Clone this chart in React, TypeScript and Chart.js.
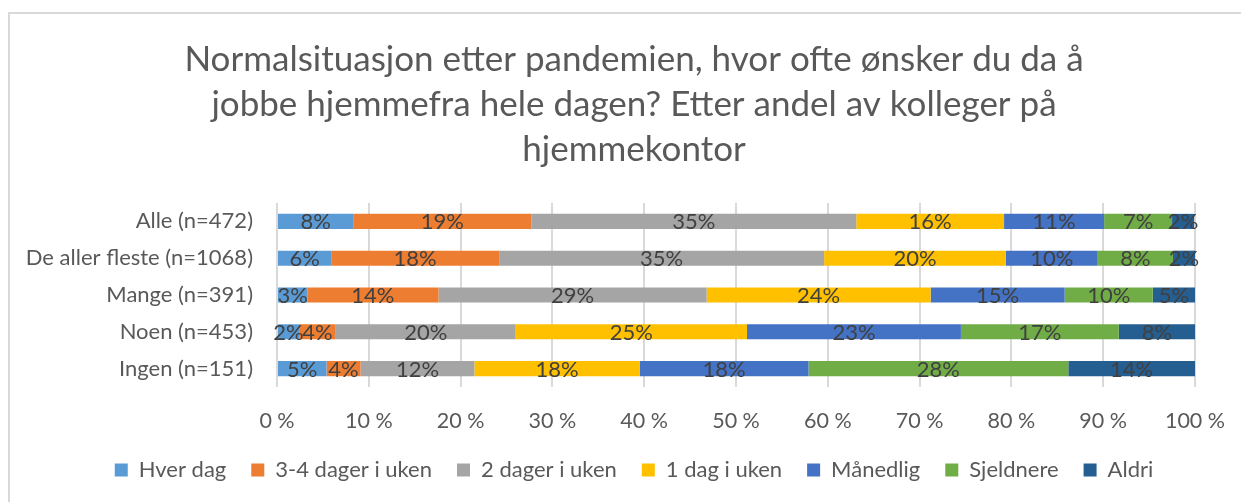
import React, { useEffect, useRef } from "react";
import { Chart, registerables } from "chart.js";

Chart.register(...registerables);

const categories = [
  "Alle (n=472)",
  "De aller fleste (n=1068)",
  "Mange (n=391)",
  "Noen (n=453)",
  "Ingen (n=151)",
];

const hverDag = [8.3, 5.9, 3.3, 2.4, 5.4];
const treFireDager = [19.4, 18.3, 14.3, 4.0, 3.7];
const toDager = [35.4, 35.4, 29.2, 19.6, 12.4];
const enDag = [16.1, 19.8, 24.4, 25.2, 18.0];
const maanedlig = [10.9, 10.0, 14.6, 23.3, 18.4];
const sjeldnere = [7.4, 8.2, 9.6, 17.2, 28.3];
const aldri = [2.4, 2.4, 4.6, 8.3, 13.8];

const seriesNames = [
  "Hver dag",
  "3-4 dager i uken",
  "2 dager i uken",
  "1 dag i uken",
  "Månedlig",
  "Sjeldnere",
  "Aldri",
];
const seriesValues = [hverDag, treFireDager, toDager, enDag, maanedlig, sjeldnere, aldri];
const seriesColors = ["#5B9BD5", "#ED7D31", "#A5A5A5", "#FFC000", "#4472C4", "#70AD47", "#255E91"];

const titleLines = [
  "Normalsituasjon etter pandemien, hvor ofte ønsker du da å",
  "jobbe hjemmefra hele dagen? Etter andel av kolleger på",
  "hjemmekontor",
];

const FONT = "Lato, 'Open Sans', sans-serif";
const CANVAS_W = 1268;
const CANVAS_H = 502;

const barLabels = {
  id: "barLabels",
  afterDatasetsDraw(chart: any) {
    const ctx = chart.ctx;
    ctx.save();
    ctx.font = `22px ${FONT}`;
    ctx.fillStyle = "#404040";
    ctx.textAlign = "center";
    ctx.textBaseline = "middle";
    chart.data.datasets.forEach((ds: any, di: number) => {
      const meta = chart.getDatasetMeta(di);
      meta.data.forEach((el: any, i: number) => {
        const v = ds.data[i];
        if (v == null) return;
        const cx = (el.x + el.base) / 2;
        ctx.fillText(Math.round(v) + "%", cx, el.y + 1);
      });
    });
    ctx.restore();
  },
};

export default function App() {
  const ref = useRef<HTMLCanvasElement | null>(null);

  useEffect(() => {
    if (!ref.current) return;
    const chart = new Chart(ref.current, {
      type: "bar",
      data: {
        labels: categories,
        datasets: seriesNames.map((name, i) => ({
          label: name,
          data: seriesValues[i],
          backgroundColor: seriesColors[i],
          borderWidth: 0,
          categoryPercentage: 1,
          barPercentage: 0.41,
        })),
      },
      options: {
        indexAxis: "y",
        animation: false,
        responsive: false,
        maintainAspectRatio: false,
        layout: { padding: { left: 0, right: 0, top: 0, bottom: 11 } },
        scales: {
          x: {
            stacked: true,
            min: 0,
            max: 100,
            border: { display: false },
            grid: { color: "#d9d9d9", lineWidth: 2, drawTicks: false },
            ticks: {
              stepSize: 10,
              padding: 21,
              color: "#595959",
              font: { family: FONT, size: 21.5 },
              callback: (v: any) => v + " %",
            },
            afterFit: (scale: any) => {
              scale.height = 47;
            },
          },
          y: {
            stacked: true,
            border: { display: false },
            grid: { display: false, drawTicks: false },
            ticks: {
              padding: 24,
              color: "#595959",
              font: { family: FONT, size: 22 },
            },
            afterFit: (scale: any) => {
              scale.width = 277;
            },
          },
          yR: {
            type: "linear",
            position: "right",
            display: true,
            border: { display: false },
            grid: { display: false, drawTicks: false },
            ticks: { display: false },
            afterFit: (scale: any) => {
              scale.width = CANVAS_W - 1195;
            },
          },
        },
        plugins: {
          title: {
            display: true,
            text: titleLines,
            color: "#595959",
            font: { family: FONT, size: 35, weight: "normal", lineHeight: 45 / 35 },
            padding: { top: 37.5, bottom: 30.5 },
          },
          legend: {
            display: true,
            position: "bottom",
            labels: {
              boxWidth: 13,
              boxHeight: 13,
              padding: 25,
              color: "#595959",
              font: { family: FONT, size: 22 },
            },
          },
          tooltip: { enabled: false },
        },
      },
      plugins: [barLabels],
    });
    return () => chart.destroy();
  }, []);

  return (
    <div style={{ position: "absolute", left: 0, top: 0, width: 1241, height: 502, overflow: "hidden", background: "#fff" }}>
      <div
        style={{
          position: "absolute",
          left: 8,
          top: 12,
          width: 1260,
          height: 520,
          border: "2px solid #d9d9d9",
          boxSizing: "border-box",
        }}
      />
      <canvas
        ref={ref}
        width={CANVAS_W}
        height={CANVAS_H}
        style={{ position: "absolute", left: 0, top: 0 }}
      />
    </div>
  );
}
